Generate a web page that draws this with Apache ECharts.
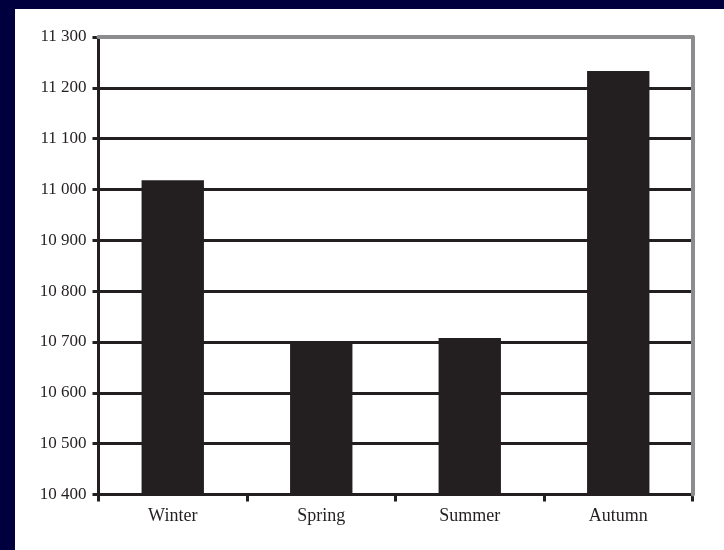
<!DOCTYPE html>
<html>
<head>
<meta charset="utf-8">
<script src="https://cdn.jsdelivr.net/npm/echarts@6/dist/echarts.min.js"></script>
<style>
html,body{margin:0;padding:0;width:724px;height:550px;background:#00003f;overflow:hidden;}
#chart{position:absolute;left:15px;top:9px;width:709px;height:541px;background:#ffffff;}
</style>
</head>
<body>
<div id="chart"></div>
<script>
var categories = ['Winter', 'Spring', 'Summer', 'Autumn'];
var values = [11018, 10699, 10708, 11233];
var yMin = 10400;
var yMax = 11300;
var yStep = 100;

var ink = '#231f20';
var frame = '#8c8c8e';
function fmt(v){ return String(v).replace(/\B(?=(\d{3})+(?!\d))/g, ' '); }

var chart = echarts.init(document.getElementById('chart'), null, {renderer:'canvas'});
chart.setOption({
  animation: false,
  grid: {left: 83.5, top: 28, right: 31.5, bottom: 55.5, containLabel: false},
  xAxis: [{
    type: 'category',
    data: categories,
    axisLine: {lineStyle: {color: ink, width: 3}},
    axisTick: {show: true, length: 7, lineStyle: {color: ink, width: 3}},
    axisLabel: {color: ink, fontFamily: 'Liberation Serif', fontSize: 18, margin: 13},
    z: 4
  }, {
    type: 'category',
    data: categories,
    position: 'top',
    axisLine: {lineStyle: {color: frame, width: 4}},
    axisTick: {show: false},
    axisLabel: {show: false},
    z: 5
  }],
  yAxis: [{
    type: 'value',
    min: yMin, max: yMax, interval: yStep,
    axisLine: {show: true, lineStyle: {color: ink, width: 3}},
    axisTick: {show: true, length: 6, lineStyle: {color: ink, width: 3}},
    splitLine: {show: true, lineStyle: {color: ink, width: 3}},
    axisLabel: {color: ink, fontFamily: 'Liberation Serif', fontSize: 17, margin: 12, formatter: fmt},
    z: 4
  }, {
    type: 'value',
    position: 'right',
    min: yMin, max: yMax, interval: yStep,
    axisLine: {show: true, lineStyle: {color: frame, width: 4}},
    axisTick: {show: false},
    axisLabel: {show: false},
    splitLine: {show: false},
    z: 5
  }],
  series: [{
    type: 'bar',
    data: values,
    barWidth: '42%',
    itemStyle: {color: ink},
    z: 3
  }]
});
</script>
</body>
</html>
